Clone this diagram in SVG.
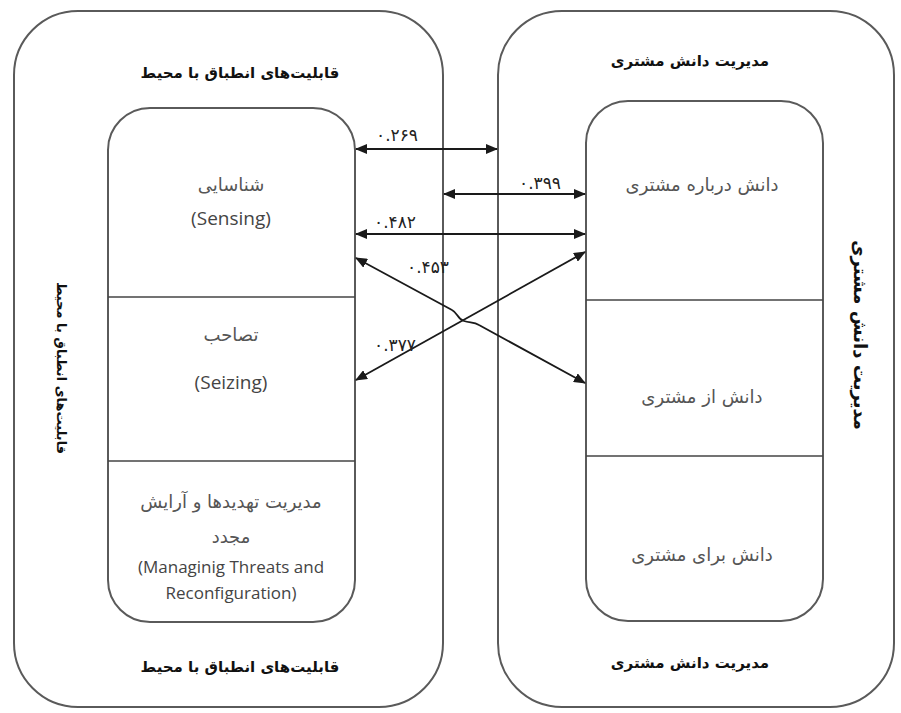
<svg xmlns="http://www.w3.org/2000/svg" width="901" height="713" viewBox="0 0 901 713">
<defs>
<marker id="ah" viewBox="0 0 12 10" refX="11" refY="5" markerWidth="12" markerHeight="10" markerUnits="userSpaceOnUse" orient="auto-start-reverse">
<path d="M0,0 L12,5 L0,10 Z" fill="#1a1a1a"/>
</marker>
</defs>
<style>
.box{fill:none;stroke:#5a5a5a;stroke-width:2}
.div{stroke:#444;stroke-width:1.6}
.title{font-family:"DejaVu Sans","Noto Sans",sans-serif;font-weight:bold;font-size:15px;fill:#111;text-anchor:middle}
.fa{font-family:"DejaVu Sans","Noto Sans",sans-serif;font-size:18px;fill:#555;text-anchor:middle}
.en{font-family:"Open Sans","Liberation Sans",sans-serif;font-size:19px;fill:#444;text-anchor:middle}
.num{font-family:"DejaVu Sans",sans-serif;font-size:17px;fill:#222;text-anchor:middle}
.conn{fill:none;stroke:#1a1a1a;stroke-width:1.8;marker-start:url(#ah);marker-end:url(#ah)}
</style>
<rect width="901" height="713" fill="#fff"/>
<g id="left-outer">
<rect class="box" x="14" y="11" width="429" height="696" rx="64" ry="64"/>
<text class="title" x="240" y="78">قابلیت‌های انطباق با محیط</text>
<text class="title" x="240" y="672">قابلیت‌های انطباق با محیط</text>
<text class="title" transform="translate(57,368) rotate(90)" style="font-size:13px">قابلیت‌های انطباق با محیط</text>
</g>
<g id="right-outer">
<rect class="box" x="498" y="11" width="396" height="696" rx="64" ry="64"/>
<text class="title" x="690" y="66">مدیریت دانش مشتری</text>
<text class="title" x="690" y="668">مدیریت دانش مشتری</text>
<text class="title" transform="translate(854,335) rotate(90)" style="font-size:18px">مدیریت دانش مشتری</text>
</g>
<g id="left-inner">
<rect class="box" x="108" y="108" width="247" height="514" rx="42" ry="42"/>
<line class="div" x1="108" y1="297" x2="355" y2="297"/>
<line class="div" x1="108" y1="461" x2="355" y2="461"/>
</g>
<g id="sensing">
<text class="fa" x="231" y="191">شناسایی</text>
<text class="en" x="231" y="225">(Sensing)</text>
</g>
<g id="seizing">
<text class="fa" x="231" y="341">تصاحب</text>
<text class="en" x="231" y="389">(Seizing)</text>
</g>
<g id="managing">
<text class="fa" x="231" y="508">مدیریت تهدیدها و آرایش</text>
<text class="fa" x="231" y="543">مجدد</text>
<text class="en" x="231" y="573" style="font-size:17px">(Managinig Threats and</text>
<text class="en" x="231" y="599" style="font-size:17px">Reconfiguration)</text>
</g>
<g id="right-inner">
<rect class="box" x="586" y="101" width="237" height="520" rx="42" ry="42"/>
<line class="div" x1="586" y1="300" x2="823" y2="300"/>
<line class="div" x1="586" y1="456" x2="823" y2="456"/>
</g>
<g id="know-about">
<text class="fa" x="702" y="191">دانش درباره مشتری</text>
</g>
<g id="know-from">
<text class="fa" x="702" y="403">دانش از مشتری</text>
</g>
<g id="know-for">
<text class="fa" x="702" y="561">دانش برای مشتری</text>
</g>
<g id="connectors">
<line class="conn" x1="356" y1="149" x2="497" y2="149"/>
<line class="conn" x1="444" y1="194" x2="585" y2="194"/>
<line class="conn" x1="356" y1="234" x2="585" y2="234"/>
<path class="conn" d="M356,258 L452,310 C458,313 457,319 464,321 C470,323 474,322 479,325 L585,383"/>
<line class="conn" x1="585" y1="252" x2="356" y2="380"/>
<text class="num" x="397" y="141">۰.۲۶۹</text>
<text class="num" x="540" y="189">۰.۳۹۹</text>
<text class="num" x="395" y="228">۰.۴۸۲</text>
<text class="num" x="428" y="273">۰.۴۵۳</text>
<text class="num" x="395" y="351">۰.۳۷۷</text>
</g>
</svg>
